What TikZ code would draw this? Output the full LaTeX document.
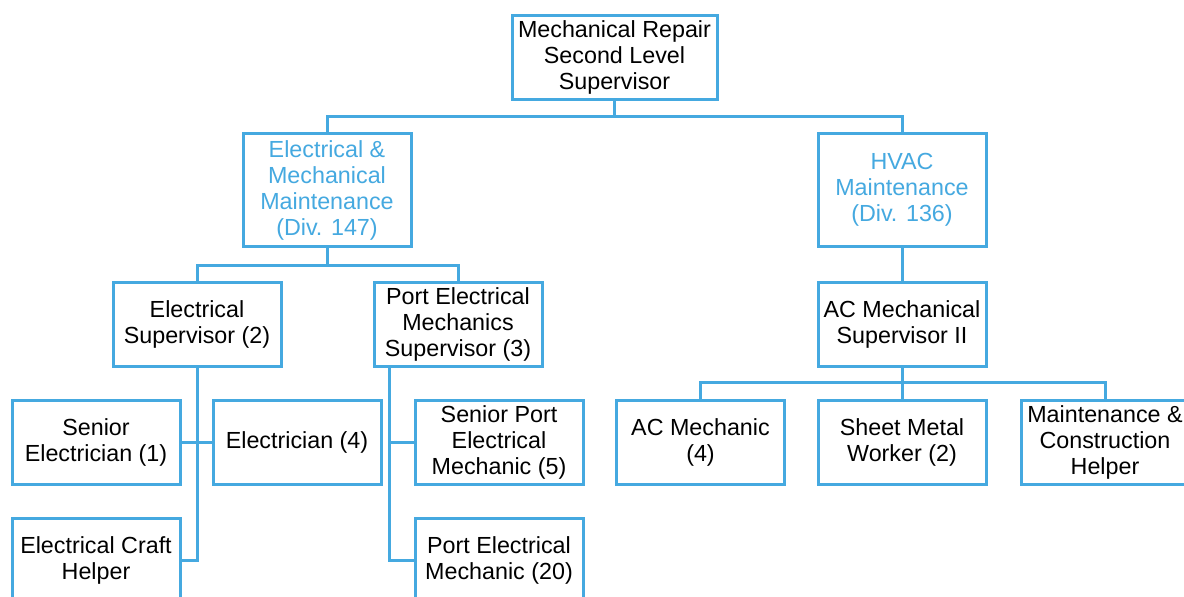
\documentclass[tikz,border=0pt]{standalone}
\usepackage{fontspec}
\setmainfont{Liberation Sans}
\usetikzlibrary{calc}
\definecolor{orgblue}{HTML}{45A9E0}
\tikzset{
  box/.style={draw=orgblue, line width=3pt, fill=white, inner sep=0pt,
    minimum width=168pt, minimum height=84pt, align=center,
    font=\fontsize{23.3}{26}\selectfont, text=black},
  divbox/.style={box, minimum height=113pt, text=orgblue},
  link/.style={draw=orgblue, line width=3pt, line join=miter}
}
\begin{document}
\begin{tikzpicture}[x=1pt,y=-1pt]
\useasboundingbox (0,0) rectangle (1184,597);
\clip (0,0) rectangle (1184,597);
\fill[white] (0,0) rectangle (1184,597);
% nodes
\node[box, minimum width=205pt] (top) at (614.5,57) {Mechanical Repair\\Second Level\\Supervisor};
\node[divbox] (em) at (327,190) {Electrical \&\\Mechanical\\Maintenance\\(Div. 147)};
\node[divbox] (hvac) at (902,190) {HVAC\\Maintenance\\(Div. 136)};
\node[box] (es) at (197,324) {Electrical\\Supervisor (2)};
\node[box] (pems) at (458,324) {Port Electrical\\Mechanics\\Supervisor (3)};
\node[box] (acms) at (902,324) {AC Mechanical\\Supervisor II};
\node[box] (se) at (96,442) {Senior\\Electrician (1)};
\node[box] (el) at (297,442) {Electrician (4)};
\node[box] (ech) at (96,560) {Electrical Craft\\Helper};
\node[box] (spem) at (499,442) {Senior Port\\Electrical\\Mechanic (5)};
\node[box] (pem) at (499,560) {Port Electrical\\Mechanic (20)};
\node[box] (acm) at (700.5,442) {AC Mechanic\\(4)};
\node[box] (smw) at (902,442) {Sheet Metal\\Worker (2)};
\node[box] (mch) at (1105,442) {Maintenance \&\\Construction\\Helper};
% junctions
\coordinate (j1) at (top.south |- 0,116);
\coordinate (j2) at (em.south |- 0,265);
\coordinate (j3) at (acms.south |- 0,382);
\coordinate (p1) at ($(pems.south west)+(17,0)$);
% connectors
\draw[link] (top.south) -- (j1);
\draw[link] (em.north) |- (j1) -| (hvac.north);
\draw[link] (em.south) -- (j2);
\draw[link] (es.north) |- (j2) -| (pems.north);
\draw[link] (es.south) |- (ech.east);
\draw[link] (se.east) -- (el.west);
\draw[link] (p1) |- (pem.west);
\draw[link] (p1) |- (spem.west);
\draw[link] (hvac.south) -- (acms.north);
\draw[link] (acms.south) -- (j3);
\draw[link] (acm.north) |- (j3) -| (mch.north);
\draw[link] (j3) -- (smw.north);
\end{tikzpicture}
\end{document}
